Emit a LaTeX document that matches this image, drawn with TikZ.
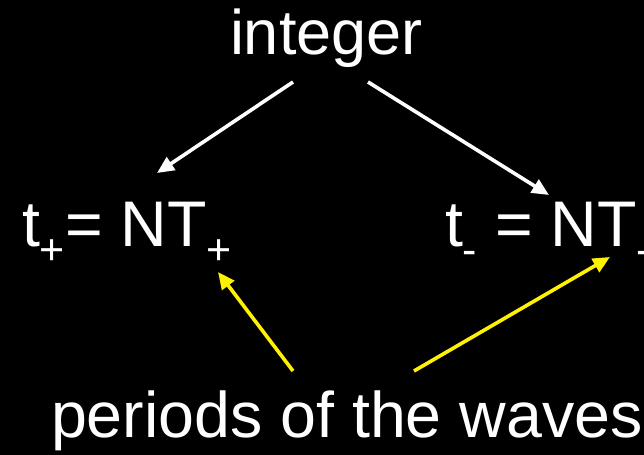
\documentclass[tikz,border=0pt]{standalone}
\usepackage{fontspec}
\setmainfont{Liberation Sans}
\usetikzlibrary{arrows.meta}
\newcommand{\mysub}[1]{\raisebox{-18bp}{\fontsize{43bp}{45bp}\selectfont #1}}
\tikzset{
  lbl/.style={text=white, inner sep=0pt, outer sep=0pt, anchor=base west, font=\fontsize{64.5bp}{70bp}\selectfont},
  warrow/.style={draw=white, line width=3.6bp, -{Triangle[length=17bp,width=15bp]}},
  yarrow/.style={draw=yellow, line width=3.6bp, -{Triangle[length=17bp,width=15bp]}}
}
\begin{document}
\begin{tikzpicture}[x=1bp,y=-1bp]
\fill[black] (0,0) rectangle (644,455);
\useasboundingbox (0,0) rectangle (644,455);
\node[lbl, font=\fontsize{63bp}{68bp}\selectfont] (int) at (230,55) {integer};
\node[lbl] (tp) at (22,247) {t\mysub{+}= NT\mysub{+}};
\node[lbl] (tm) at (445,247) {t\mysub{-} = NT\mysub{-}};
\node[lbl] (per) at (51,437) {periods of the waves};
\coordinate (w1s) at (293,82);
\coordinate (w1e) at (157,173);
\coordinate (w2s) at (368,82);
\coordinate (w2e) at (549,195);
\coordinate (y1s) at (293,371);
\coordinate (y1e) at (218,272);
\coordinate (y2s) at (414,371);
\coordinate (y2e) at (610,257);
\draw[warrow] (w1s) -- (w1e);
\draw[warrow] (w2s) -- (w2e);
\draw[yarrow] (y1s) -- (y1e);
\draw[yarrow] (y2s) -- (y2e);
\end{tikzpicture}
\end{document}
